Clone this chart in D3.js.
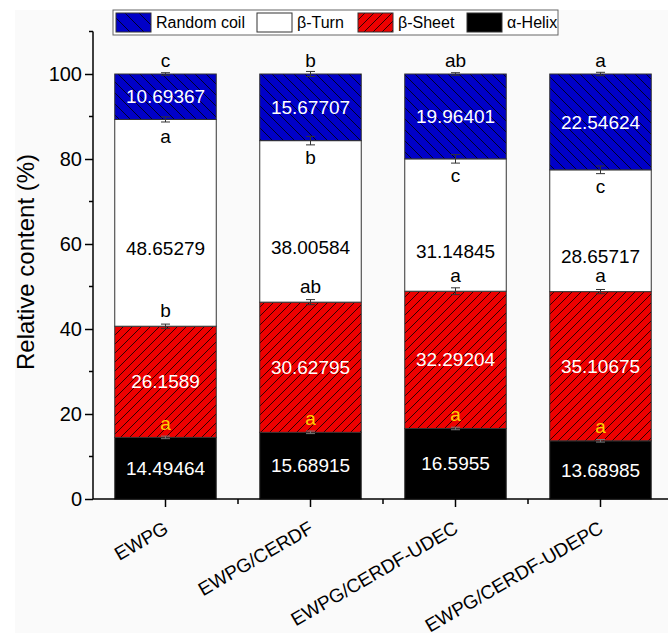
<!DOCTYPE html>
<html><head><meta charset="utf-8">
<script src="https://cdn.jsdelivr.net/npm/d3@7"></script>
<style>
body{margin:0;background:#fff}
text{font-family:Arial,"Liberation Sans",sans-serif}
</style>
</head><body>
<svg id="c" width="668" height="633"></svg>
<script>
const categories = ["EWPG","EWPG/CERDF","EWPG/CERDF-UDEC","EWPG/CERDF-UDEPC"];
const helix = [14.49464, 15.68915, 16.5955, 13.68985];
const sheet = [26.1589, 30.62795, 32.29204, 35.10675];
const turn  = [48.65279, 38.00584, 31.14845, 28.65717];
const coil  = [10.69367, 15.67707, 19.96401, 22.54624];
const helixErr = [0.3, 0.3, 0.3, 0.3];
const sheetErr = [0.5, 0.6, 0.8, 0.5];
const turnErr  = [0.6, 1.0, 1.0, 0.9];
const coilErr  = [0.3, 0.6, 0.3, 0.4];
const helixLetters = ["a","a","a","a"];
const sheetLetters = ["b","ab","a","a"];
const turnLetters  = ["a","b","c","c"];
const coilLetters  = ["c","b","ab","a"];
const yMajor = [0,20,40,60,80,100];
const yMinor = [10,30,50,70,90,110];
const seriesNames = ["Random coil","β-Turn","β-Sheet","α-Helix"];

const svg = d3.select("#c");
svg.append("rect").attr("x",15).attr("y",10).attr("width",653).attr("height",623).attr("fill","#fafafa");

const defs = svg.append("defs");
function hatch(id, color, w, dir){
  const p = defs.append("pattern").attr("id",id).attr("patternUnits","userSpaceOnUse")
    .attr("width",w).attr("height",w);
  p.append("rect").attr("width",w).attr("height",w).attr("fill",color);
  const d = dir==="back"
    ? `M0,0L${w},${w}M${-w/2},${w/2}L${w/2},${w*1.5}M${w/2},${-w/2}L${w*1.5},${w/2}`
    : `M0,${w}L${w},0M${-w/2},${w/2}L${w/2},${-w/2}M${w/2},${w*1.5}L${w*1.5},${w/2}`;
  p.append("path").attr("d",d).attr("stroke","#000").attr("stroke-width",0.8);
}
hatch("blueH","#0000c8",11,"back");
hatch("redH","#ee0000",9,"fwd");
hatch("blueL","#0000c8",14,"back");
hatch("redL","#ee0000",9,"fwd");

const x = d3.scaleBand().domain(categories).range([93,673]).paddingInner(0.3).paddingOuter(0.15);
const y = d3.scaleLinear().domain([0,110]).range([499,31.5]);

const rows = categories.map((c,i)=>({cat:c, helix:helix[i], sheet:sheet[i], turn:turn[i], coil:coil[i]}));
const keys = ["helix","sheet","turn","coil"];
const stack = d3.stack().keys(keys)(rows);
const fills = {helix:"#000", sheet:"url(#redH)", turn:"#fff", coil:"url(#blueH)"};
const errs = {helix:helixErr, sheet:sheetErr, turn:turnErr, coil:coilErr};
const letters = {helix:helixLetters, sheet:sheetLetters, turn:turnLetters, coil:coilLetters};
const labelColor = {helix:"#fff", sheet:"#fff", turn:"#000", coil:"#fff"};
const labelDy = {helix:0, sheet:0, turn:26, coil:0};

const g = svg.append("g");
stack.forEach(s=>{
  const k = s.key;
  g.selectAll(null).data(s).enter().append("rect")
    .attr("x",d=>x(d.data.cat)).attr("width",x.bandwidth())
    .attr("y",d=>y(d[1])).attr("height",d=>y(d[0])-y(d[1]))
    .attr("fill",fills[k]).attr("stroke","#333").attr("stroke-width",1);
});
stack.forEach(s=>{
  const k = s.key;
  g.selectAll(null).data(s).enter().append("text")
    .attr("x",d=>x(d.data.cat)+x.bandwidth()/2)
    .attr("y",d=>(y(d[0])+y(d[1]))/2+labelDy[k])
    .attr("dy","0.35em").attr("text-anchor","middle")
    .attr("font-size",19).attr("fill",labelColor[k])
    .text(d=>String(d.data[k]));
});
stack.forEach(s=>{
  const k = s.key;
  s.forEach((d,i)=>{
    const cx = x(d.data.cat)+x.bandwidth()/2;
    const e = errs[k][i];
    const col = k==="helix" ? "#777" : "#333";
    g.append("line").attr("x1",cx).attr("x2",cx).attr("y1",y(d[1]-e)).attr("y2",y(d[1]+e)).attr("stroke",col).attr("stroke-width",1);
    [d[1]-e,d[1]+e].forEach(v=>g.append("line").attr("x1",cx-4.5).attr("x2",cx+4.5).attr("y1",y(v)).attr("y2",y(v)).attr("stroke",col).attr("stroke-width",1));
  });
});
stack.forEach(s=>{
  const k = s.key;
  s.forEach((d,i)=>{
    const cx = x(d.data.cat)+x.bandwidth()/2;
    let yy, col="#000";
    if(k==="coil"){ yy = y(d[1]) - 14; }
    else if(k==="turn"){ yy = y(d[1]) + 17; }
    else if(k==="sheet"){ yy = y(d[1]) - 16; }
    else { yy = y(d[1]) - 14; col="#ffd000"; }
    g.append("text").attr("x",cx).attr("y",yy).attr("dy","0.35em").attr("text-anchor","middle")
      .attr("font-size",19).attr("fill",col).text(letters[k][i]);
  });
});

const ax = svg.append("g");
ax.append("line").attr("x1",93).attr("x2",93).attr("y1",y(110)).attr("y2",y(0)).attr("stroke","#000").attr("stroke-width",1.5);
ax.append("line").attr("x1",93).attr("x2",668).attr("y1",y(0)).attr("y2",y(0)).attr("stroke","#000").attr("stroke-width",1.5);
const yAxis = d3.axisLeft(y).tickValues(yMajor).tickSize(8).tickPadding(3);
const ya = ax.append("g").attr("transform","translate(93,0)").call(yAxis);
ya.select(".domain").remove();
ya.selectAll("text").attr("font-size",20).attr("fill","#000").style("font-family","Arial, 'Liberation Sans', sans-serif");
ya.selectAll("line").attr("stroke-width",1.5);
ax.selectAll(null).data(yMinor).enter().append("line").attr("x1",89).attr("x2",93)
  .attr("y1",d=>y(d)).attr("y2",d=>y(d)).attr("stroke","#000").attr("stroke-width",1.5);
ax.selectAll(null).data(categories).enter().append("line")
  .attr("x1",d=>x(d)+x.bandwidth()/2).attr("x2",d=>x(d)+x.bandwidth()/2)
  .attr("y1",y(0)).attr("y2",y(0)+8).attr("stroke","#000").attr("stroke-width",1.5);
ax.selectAll(null).data(categories).enter().append("line")
  .attr("x1",d=>x(d)+x.bandwidth()/2+x.step()/2).attr("x2",d=>x(d)+x.bandwidth()/2+x.step()/2)
  .attr("y1",y(0)).attr("y2",y(0)+5).attr("stroke","#000").attr("stroke-width",1.5);
ax.selectAll(null).data(categories).enter().append("text")
  .attr("transform",d=>`translate(${x(d)+x.bandwidth()/2+4},${y(0)+33}) rotate(-30)`)
  .attr("text-anchor","end").attr("font-size",19).attr("fill","#000").text(d=>d);
svg.append("text").attr("transform","translate(34,262) rotate(-90)").attr("text-anchor","middle")
  .attr("font-size",24).attr("fill","#000").text("Relative content (%)");

const lg = svg.append("g");
lg.append("rect").attr("x",113).attr("y",10).attr("width",445).attr("height",25).attr("fill","#fff").attr("stroke","#666").attr("stroke-width",1);
const legFill = ["url(#blueL)","#fff","url(#redL)","#000"];
const swX = [116,257,358,467];
seriesNames.forEach((n,i)=>{
  lg.append("rect").attr("x",swX[i]).attr("y",13).attr("width",35).attr("height",19).attr("fill",legFill[i]).attr("stroke","#333").attr("stroke-width",1);
  lg.append("text").attr("x",swX[i]+40).attr("y",22.5).attr("dy","0.35em").attr("font-size",16).attr("fill","#000").text(n);
});
</script>
</body></html>
